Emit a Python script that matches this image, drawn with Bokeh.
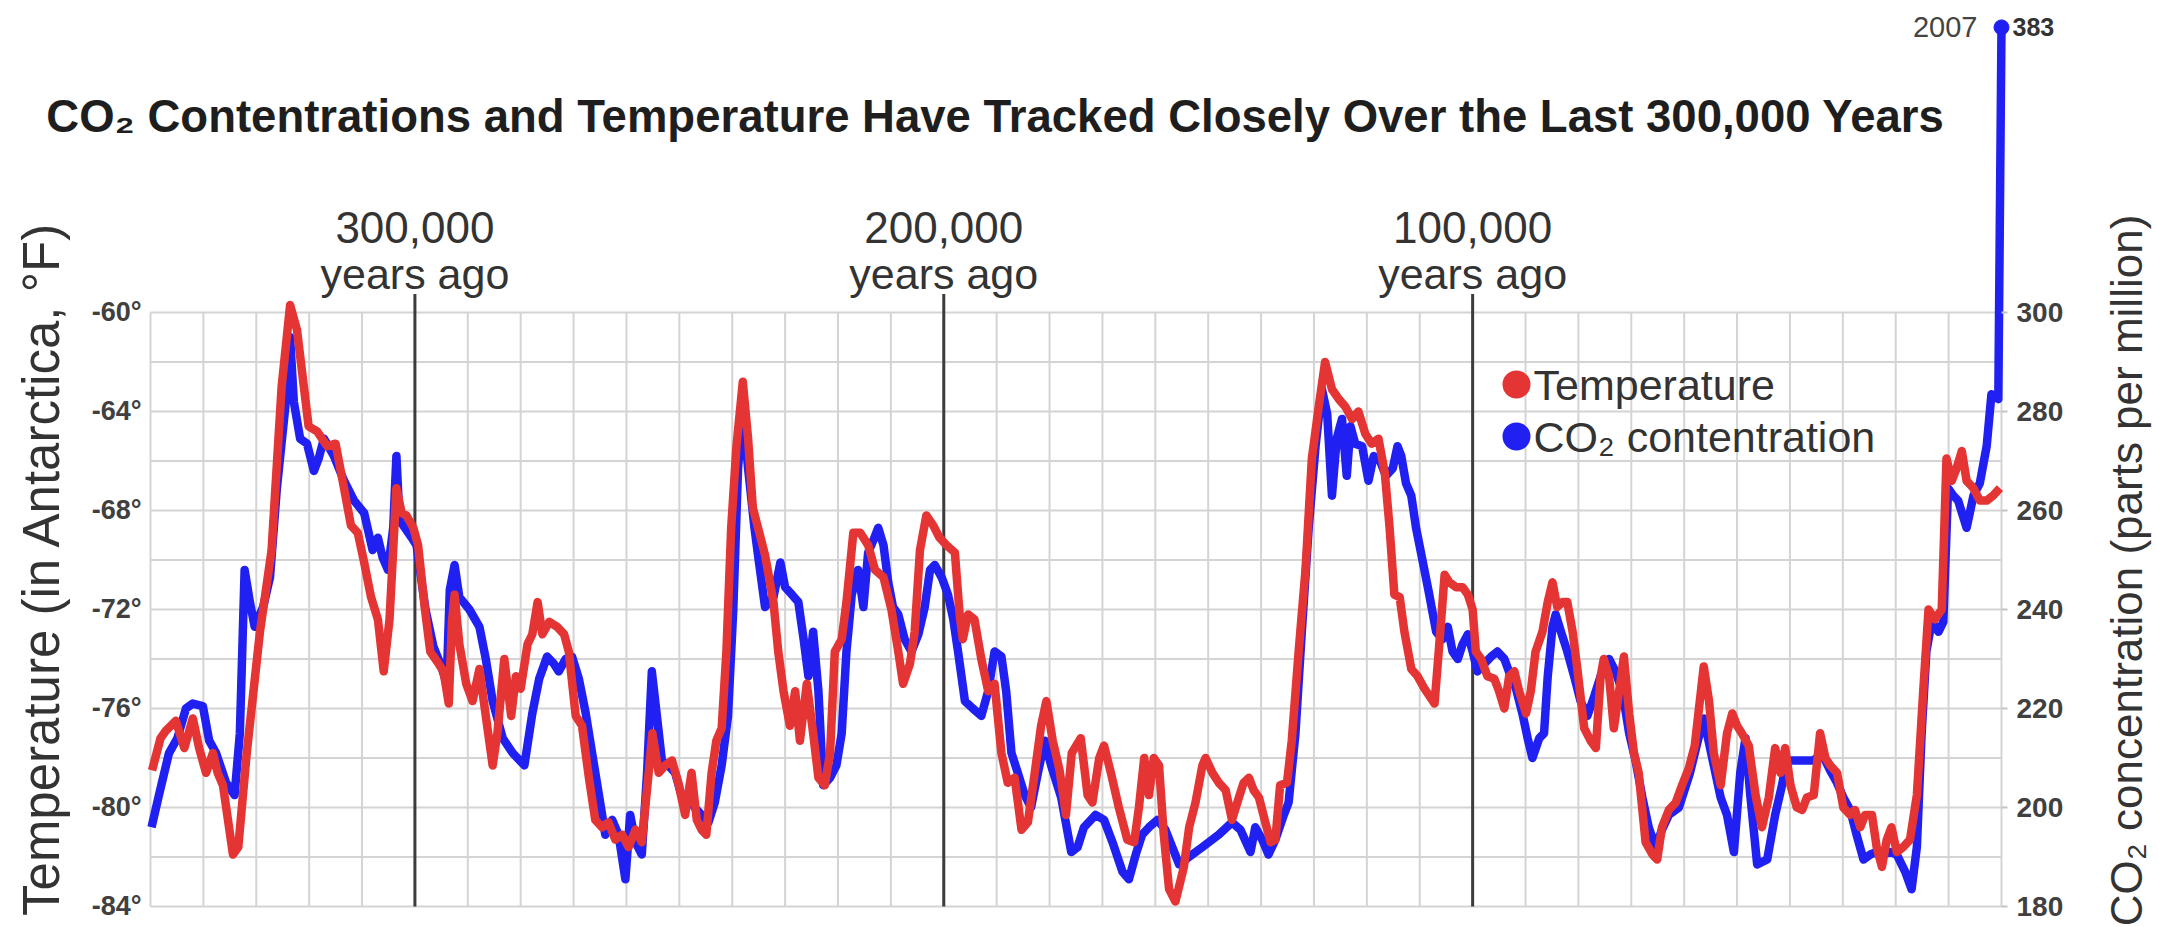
import math
from bokeh.plotting import figure
from bokeh.models import (Range1d, LinearAxis, FixedTicker, Label, LabelSet,
                          ColumnDataSource, BoxAnnotation)
from bokeh.embed import file_html
from bokeh.resources import INLINE
from bokeh.core.properties import value

# ---------------- data (thousands of years ago) ----------------
TEMP_KYR = [349.7, 348.1, 347.1, 345.2, 343.6, 342.0, 340.8, 339.5, 338.2, 337.3, 336.3, 334.4, 333.4,
            331.8, 329.3, 327.1, 325.2, 323.6, 322.3, 321.0, 320.1, 318.5, 316.6, 315.0, 313.4, 312.1,
            310.8, 309.6, 308.3, 307.0, 305.9, 304.8, 303.5, 302.5, 301.6, 300.3, 299.4, 298.1, 297.1,
            295.5, 294.6, 293.6, 293.0, 292.5, 291.6, 290.3, 289.1, 287.8, 286.6, 285.3, 284.4, 283.1,
            281.8, 280.9, 280.0, 278.7, 277.8, 276.8, 275.9, 274.6, 273.1, 271.8, 270.9, 269.6, 268.4,
            267.1, 265.9, 264.6, 263.4, 262.1, 260.8, 259.6, 258.3, 257.1, 255.8, 255.1, 253.9, 252.7,
            251.4, 250.2, 248.9, 247.7, 246.7, 245.8, 244.9, 243.9, 243.0, 242.0, 241.1, 240.2, 239.2,
            238.0, 237.0, 236.1, 235.0, 233.8, 232.2, 231.3, 230.3, 229.1, 228.1, 227.2, 225.9, 224.7,
            223.7, 222.5, 221.5, 220.6, 219.3, 218.4, 217.1, 215.8, 214.3, 213.0, 211.4, 209.9, 208.6,
            207.7, 206.4, 205.5, 204.5, 203.3, 202.0, 200.8, 199.5, 197.9, 197.0, 196.4, 195.4, 194.2,
            192.9, 191.6, 190.4, 189.1, 187.9, 186.6, 185.3, 184.1, 182.8, 181.6, 180.6, 179.4, 178.1,
            176.9, 175.8, 174.1, 172.8, 171.9, 170.6, 169.7, 168.4, 166.9, 165.3, 164.0, 163.1, 162.1,
            161.2, 160.3, 159.3, 158.4, 157.4, 156.2, 154.6, 153.6, 152.4, 151.1, 150.5, 149.2, 148.0,
            146.7, 145.5, 144.2, 143.3, 142.3, 141.4, 140.4, 139.2, 138.2, 137.3, 136.4, 135.1, 134.2,
            132.9, 131.6, 130.4, 129.1, 127.9, 126.6, 125.3, 124.1, 122.8, 121.6, 120.3, 119.1, 117.8,
            116.6, 115.7, 114.8, 113.8, 112.9, 111.6, 110.4, 109.1, 107.2, 106.3, 105.3, 104.4, 103.1,
            101.9, 100.9, 100.0, 99.4, 98.4, 97.2, 95.9, 95.0, 94.0, 93.1, 92.1, 91.2, 89.9, 89.0, 88.1,
            86.8, 85.8, 84.9, 84.0, 83.0, 82.1, 81.1, 80.2, 78.9, 77.7, 76.7, 75.8, 75.2, 74.2, 73.3,
            72.3, 71.4, 70.4, 69.5, 68.6, 67.3, 66.0, 65.1, 64.2, 62.9, 61.6, 60.4, 59.1, 58.0, 56.3,
            55.3, 54.4, 53.1, 51.9, 50.9, 50.0, 49.1, 47.8, 46.5, 45.3, 44.0, 42.8, 41.8, 40.9, 39.9,
            38.7, 37.7, 36.8, 35.5, 34.3, 33.3, 32.4, 31.1, 29.9, 28.6, 27.7, 26.7, 25.8, 24.5, 23.6,
            22.6, 21.7, 20.8, 19.8, 18.6, 17.3, 16.0, 14.8, 13.8, 12.6, 11.3, 10.4, 9.4, 8.5, 7.5, 6.6,
            5.3, 4.1, 2.8, 1.6, 0.3]
TEMP_F = [-78.5, -77.2, -76.9, -76.5, -77.6, -76.4, -77.6, -78.6, -77.8, -78.6, -79.1, -81.9, -81.6,
          -77.8, -72.9, -69.6, -63.0, -59.7, -60.7, -63.0, -64.6, -64.8, -65.4, -65.3, -67.1, -68.6,
          -68.9, -70.1, -71.5, -72.4, -74.5, -72.4, -67.1, -68.1, -68.2, -68.7, -69.4, -72.0, -73.7,
          -74.2, -74.5, -75.8, -72.5, -71.4, -73.4, -75.0, -75.7, -74.4, -76.3, -78.3, -77.0, -74.0,
          -76.3, -74.7, -75.2, -73.4, -73.0, -71.7, -73.0, -72.5, -72.7, -73.0, -73.7, -76.3, -76.7,
          -78.8, -80.5, -80.8, -80.6, -81.3, -81.1, -81.6, -80.9, -81.4, -78.6, -77.0, -78.6, -78.3,
          -78.1, -79.0, -80.3, -78.6, -80.5, -80.9, -81.1, -78.6, -77.3, -76.8, -73.7, -68.7, -65.4,
          -62.8, -65.1, -67.9, -68.8, -69.8, -71.7, -73.7, -75.3, -76.7, -75.3, -77.3, -75.0, -77.0,
          -78.8, -79.1, -77.8, -73.7, -73.2, -71.7, -68.9, -68.9, -69.4, -70.4, -70.7, -72.0, -73.7,
          -75.0, -74.2, -72.9, -69.6, -68.2, -68.6, -69.1, -69.4, -69.7, -72.2, -73.2, -72.2, -72.4,
          -74.0, -75.3, -75.0, -77.8, -79.0, -78.8, -80.9, -80.6, -78.6, -76.7, -75.7, -77.3, -78.5,
          -80.3, -77.8, -77.2, -79.5, -79.8, -78.0, -77.5, -78.6, -80.0, -81.3, -81.4, -80.0, -78.0,
          -79.5, -78.0, -78.3, -81.1, -83.3, -83.8, -82.4, -80.8, -79.8, -78.3, -78.0, -78.6, -79.0,
          -79.3, -80.5, -79.6, -79.0, -78.8, -79.3, -79.6, -80.6, -81.4, -81.3, -79.1, -79.0, -77.3,
          -73.7, -70.4, -65.9, -63.8, -62.0, -63.1, -63.5, -63.8, -64.3, -64.0, -64.9, -65.3, -65.1,
          -66.5, -68.7, -71.4, -71.5, -72.9, -74.4, -74.7, -75.2, -75.8, -73.4, -70.6, -70.9, -71.1,
          -71.1, -71.4, -72.0, -73.7, -74.0, -74.7, -74.8, -75.3, -76.0, -74.7, -74.5, -75.3, -76.2,
          -75.3, -73.7, -72.9, -71.7, -70.9, -71.9, -71.7, -71.7, -72.9, -74.4, -76.8, -77.3, -77.6,
          -74.7, -74.0, -74.7, -76.8, -75.3, -73.9, -76.2, -77.8, -78.6, -81.4, -81.9, -82.1, -80.8,
          -80.1, -79.8, -79.1, -78.4, -77.5, -74.3, -75.7, -77.8, -79.1, -77.0, -76.2, -76.7, -77.0,
          -77.5, -79.5, -80.8, -79.6, -77.6, -78.6, -77.6, -79.1, -80.0, -80.1, -79.6, -79.5, -77.0,
          -78.0, -78.3, -78.6, -80.0, -80.3, -80.1, -80.8, -80.3, -80.3, -81.6, -82.4, -81.3, -80.8,
          -81.8, -81.6, -81.3, -79.5, -75.3, -72.0, -72.4, -72.0, -65.9, -66.8, -66.3, -65.6, -66.8,
          -67.1, -67.6, -67.6, -67.4, -67.1]

CO2_KYR = [349.8, 348.4, 346.5, 344.9, 343.3, 342.0, 340.1, 338.9, 337.6, 335.7, 334.1, 333.1, 332.2,
           331.2, 330.3, 328.7, 327.4, 326.1, 324.5, 323.6, 322.9, 321.7, 320.4, 319.1, 318.2, 317.2,
           315.3, 313.4, 311.5, 309.6, 308.0, 307.0, 306.1, 305.1, 304.1, 303.5, 302.9, 301.9, 300.6,
           299.7, 298.0, 296.5, 295.0, 294.0, 293.4, 292.5, 291.6, 289.7, 287.8, 286.6, 285.3, 283.4,
           281.5, 279.3, 277.8, 276.5, 275.0, 273.7, 272.8, 271.5, 270.3, 269.0, 267.7, 266.5, 265.2,
           264.0, 262.7, 261.5, 260.2, 259.3, 258.3, 257.1, 256.1, 255.2, 254.3, 253.3, 252.1, 250.8,
           249.6, 248.3, 247.1, 245.8, 244.5, 243.3, 242.0, 240.8, 239.8, 238.9, 238.0, 237.0, 235.8,
           235.0, 233.8, 232.2, 230.9, 230.0, 228.7, 227.5, 226.5, 225.6, 224.7, 223.7, 222.8, 221.5,
           220.3, 219.3, 218.4, 217.4, 216.2, 215.2, 214.3, 213.3, 212.4, 211.4, 210.5, 209.6, 208.6,
           207.4, 206.1, 204.8, 203.6, 202.6, 201.7, 200.4, 199.2, 198.2, 197.3, 196.0, 194.5, 192.9,
           191.6, 190.4, 189.1, 188.2, 187.2, 186.0, 184.7, 183.5, 182.2, 180.9, 179.7, 177.8, 175.9,
           174.7, 173.5, 171.3, 169.7, 168.1, 166.2, 165.0, 163.7, 162.5, 161.2, 159.6, 158.1, 156.8,
           155.5, 154.3, 151.1, 148.0, 145.5, 143.9, 142.0, 141.1, 139.8, 138.6, 137.3, 135.7, 134.8,
           133.5, 132.3, 131.0, 129.7, 128.5, 127.5, 126.6, 125.7, 124.7, 123.8, 123.1, 122.2, 120.9,
           119.7, 118.7, 117.5, 116.4, 115.1, 114.2, 113.5, 112.6, 111.6, 110.7, 109.4, 108.2, 106.9,
           105.7, 104.7, 103.8, 102.8, 101.9, 100.9, 100.0, 99.1, 97.8, 96.5, 95.3, 94.0, 92.8, 91.8,
           90.6, 89.6, 88.7, 87.4, 86.5, 85.8, 84.9, 84.3, 83.3, 82.1, 80.8, 79.6, 78.3, 77.0, 75.8,
           74.2, 73.0, 71.7, 70.4, 69.2, 67.9, 66.7, 65.4, 64.2, 62.9, 61.0, 58.9, 57.3, 56.3, 54.4,
           53.1, 51.9, 50.6, 49.4, 48.4, 47.5, 46.2, 44.3, 42.8, 41.5, 40.6, 39.3, 37.4, 35.5, 34.0,
           32.4, 31.1, 29.9, 28.6, 27.4, 26.1, 24.8, 23.6, 22.3, 21.1, 19.8, 18.2, 17.0, 16.0, 15.1,
           14.2, 13.2, 11.9, 11.0, 10.1, 9.1, 8.2, 6.6, 5.3, 4.1, 2.8, 1.9, 0.6, 0.0]
CO2_PPM = [196, 202.5, 211, 214, 220, 221, 220.5, 213.5, 211, 205, 202.5, 215, 248,
           241.5, 236.5, 240.5, 246.5, 264.5, 281, 295, 282, 274.5, 273.5, 268, 270.5, 274.5,
           271, 266, 262, 259.5, 252, 254.5, 250.5, 248, 256.5, 271, 258, 256.5, 254.5,
           253, 240, 232.5, 228.5, 225, 244, 249, 242.5, 240, 236.5, 230, 221.5, 214,
           211, 208.5, 219, 226, 230.5, 229, 227.5, 230, 230.5, 226, 219, 211, 202.5,
           194.5, 197.5, 194.5, 185.5, 198.5, 193, 190.5, 207, 227.5, 219, 209.5, 208.5, 207,
           202.5, 202, 200, 198.5, 197, 201, 208.5, 218.5, 240, 268.5, 281, 268.5, 256.5,
           250, 240.5, 242.5, 249.5, 244.5, 243, 241.5, 234, 226.5, 235.5, 223.5, 204.5, 206,
           208.5, 215, 231.5, 243, 248, 240.5, 251.5, 254, 256.5, 253, 245.5, 240.5, 239,
           234, 231.5, 235, 240.5, 248, 249, 246.5, 243, 238, 231.5, 221.5, 220, 218.5,
           223.5, 231.5, 230.5, 223.5, 211, 207, 202.5, 200, 207, 213.5, 208.5, 202, 191,
           192, 196, 198.5, 197.5, 193, 187, 185.5, 190.5, 194.5, 196, 197.5, 195.5, 192,
           188.5, 189.5, 192, 194.5, 197, 195.5, 191, 196, 193.5, 190.5, 193.5, 198.5, 201,
           215, 235.5, 256.5, 273, 284.5, 279.5, 263, 274.5, 278.5, 267, 277, 273.5, 273,
           266, 271, 270, 267, 268.5, 273, 271, 265.5, 263, 256.5, 249.5, 243, 235.5,
           234, 236.5, 231.5, 230, 233, 235, 231.5, 227.5, 229, 230.5, 231.5, 230, 226.5, 224,
           219, 214, 210, 214, 215, 226.5, 236.5, 239, 235.5, 231.5, 226.5, 221.5, 218.5, 222.5, 226.5,
           230, 227.5, 223.5, 215, 209.5, 202, 196, 192, 195.5, 198.5, 200, 207, 214, 218, 208.5,
           202, 198.5, 191, 207, 214, 202.5, 188.5, 189.5, 198.5, 204.5, 209.5, 209.5, 209.5, 209.5, 211,
           207.5, 205, 202, 199.5, 194.5, 189.5, 190.5, 191, 190.5, 191, 190.5, 187, 183.5, 192, 215,
           231.5, 237.5, 235.5, 237.5, 264.5, 263, 262, 256.5, 263, 265.5, 273, 283.5, 282.5, 383]

PRESENT_YEAR = "2007"
TEMP_TICKS = [-84, -80, -76, -72, -68, -64, -60]
TEMP_TICK_LABELS = {t: f"{t}\u00b0" for t in TEMP_TICKS}
CO2_TICKS = [180, 200, 220, 240, 260, 280, 300]
ERA_KYR = [300, 200, 100]
ERA_NUM = ["300,000", "200,000", "100,000"]
ERA_SUB = ["years ago", "years ago", "years ago"]
GRID_KYR = list(range(0, 351, 10))
GRID_TEMP = list(range(-84, -59, 2))

TITLE = "CO\u2082 Contentrations and Temperature Have Tracked Closely Over the Last 300,000 Years"
LEFT_TITLE = "Temperature (in Antarctica, \u00b0F)"
RIGHT_TITLE = "CO\u2082 concentration (parts per million)"
SERIES_NAMES = ["Temperature", "CO\u2082 contentration"]

# ---------------- styling / scales ----------------
RED = "#e43434"
BLUE = "#2020f2"
GRID_COLOR = "#d4d4d4"
DARK = "#3c3c3c"
TEXT = "#333333"
FONT = "Liberation Sans"

W, H = 2156, 925
TEMP_AXIS = (-84, -60)      # left axis span of the grid
CO2_AXIS = (180, 300)       # right axis span, aligned with it
X_RANGE = (378.36, -29.31)  # frame covers the whole canvas; data span 350..0
Y_RANGE = (-84.768, -47.394)
SPIKE_CAP_PPM = 357.6       # broken-axis position where the modern value is drawn


def t2c(t):
    return CO2_AXIS[0] + (t - TEMP_AXIS[0]) * (CO2_AXIS[1] - CO2_AXIS[0]) / (TEMP_AXIS[1] - TEMP_AXIS[0])


co2_drawn = [min(v, SPIKE_CAP_PPM) for v in CO2_PPM]

p = figure(width=W, height=H, output_backend="svg", toolbar_location=None,
           x_range=Range1d(*X_RANGE), y_range=Range1d(*Y_RANGE),
           x_axis_location=None, y_axis_location=None,
           min_border_left=0, min_border_right=0, min_border_top=0, min_border_bottom=0,
           outline_line_color=None, background_fill_color="white", border_fill_color="white")
p.grid.visible = False
p.extra_y_ranges = {"co2": Range1d(t2c(Y_RANGE[0]), t2c(Y_RANGE[1]))}

# grid
n = len(GRID_KYR)
p.segment(x0=GRID_KYR, y0=[TEMP_AXIS[0]] * n, x1=GRID_KYR, y1=[TEMP_AXIS[1]] * n,
          line_color=GRID_COLOR, line_width=2, level="underlay")
m = len(GRID_TEMP)
p.segment(x0=[GRID_KYR[-1]] * m, y0=GRID_TEMP, x1=[GRID_KYR[0]] * m, y1=GRID_TEMP,
          line_color=GRID_COLOR, line_width=2, level="underlay")
# era dividers
k = len(ERA_KYR)
p.segment(x0=ERA_KYR, y0=[TEMP_AXIS[0]] * k, x1=ERA_KYR, y1=[TEMP_AXIS[1] + 0.75] * k,
          line_color=DARK, line_width=3)

# series
p.line(CO2_KYR, co2_drawn, y_range_name="co2", line_color=BLUE, line_width=8.5, line_join="round")
p.line(TEMP_KYR, TEMP_F, line_color=RED, line_width=8.5, line_join="round")
p.scatter([CO2_KYR[-1]], [co2_drawn[-1]], y_range_name="co2", size=15, color=BLUE)

p.add_layout(Label(x=CO2_KYR[-1], y=co2_drawn[-1], y_range_name="co2", text=PRESENT_YEAR,
                   text_align="right", text_baseline="middle", x_offset=-24,
                   text_font=FONT, text_font_size="29px", text_color="#444444"))
p.add_layout(Label(x=CO2_KYR[-1], y=co2_drawn[-1], y_range_name="co2", text=f"{CO2_PPM[-1]:.0f}",
                   text_align="left", text_baseline="middle", x_offset=11,
                   text_font=FONT, text_font_style="bold",
                   text_font_size="25px", text_color="#333333"))

# axes (drawn at the data edges of the grid)
la = LinearAxis(fixed_location=GRID_KYR[-1], ticker=FixedTicker(ticks=TEMP_TICKS))
la.major_label_overrides = TEMP_TICK_LABELS
la.major_label_text_font = FONT
la.major_label_text_font_style = "bold"
la.major_label_text_font_size = "27px"
la.major_label_text_color = "#404040"
la.major_label_standoff = 3
la.axis_line_color = None
la.major_tick_line_color = None
la.minor_tick_line_color = None
p.add_layout(la, "left")

ra = LinearAxis(y_range_name="co2", fixed_location=GRID_KYR[0], ticker=FixedTicker(ticks=CO2_TICKS))
ra.major_label_text_font = FONT
ra.major_label_text_font_style = "bold"
ra.major_label_text_font_size = "28px"
ra.major_label_text_color = "#404040"
ra.major_label_standoff = 9
ra.axis_line_color = None
ra.major_tick_in = 0
ra.major_tick_out = 6
ra.major_tick_line_color = "#c4c4c4"
ra.major_tick_line_width = 2
ra.minor_tick_line_color = None
p.add_layout(ra, "right")

# axis titles (both read bottom-to-top)
p.add_layout(Label(x=41, y=357, x_units="screen", y_units="screen", text=LEFT_TITLE,
                   angle=math.pi / 2, text_align="center", text_baseline="middle",
                   text_font=FONT, text_font_size="51px", text_color=TEXT))
p.add_layout(Label(x=2126, y=355, x_units="screen", y_units="screen", text=RIGHT_TITLE,
                   angle=math.pi / 2, text_align="center", text_baseline="middle",
                   text_font=FONT, text_font_size="44px", text_color=TEXT))

# era labels
era_src = ColumnDataSource(dict(x=ERA_KYR, num=ERA_NUM, sub=ERA_SUB))
p.add_layout(LabelSet(x="x", y=683, y_units="screen", text="num", source=era_src,
                      text_align="center", text_baseline="alphabetic",
                      text_font=value(FONT), text_font_size="44px", text_color=TEXT))
p.add_layout(LabelSet(x="x", y=637, y_units="screen", text="sub", source=era_src,
                      text_align="center", text_baseline="alphabetic",
                      text_font=value(FONT), text_font_size="43px", text_color=TEXT))

# title
p.add_layout(Label(x=995, y=809, x_units="screen", y_units="screen", text=TITLE,
                   text_align="center", text_baseline="alphabetic",
                   text_font=FONT, text_font_style="bold",
                   text_font_size="45.5px", text_color="#1e1e1e"))

# legend: dot markers + labels
LEG_X, LEG_Y, LEG_STEP, DOT = 1516, 541, 52, 28
for i, (name, col) in enumerate(zip(SERIES_NAMES, [RED, BLUE])):
    cy = LEG_Y - i * LEG_STEP
    p.add_layout(BoxAnnotation(left=LEG_X - DOT // 2, right=LEG_X + DOT // 2,
                               bottom=cy - DOT // 2, top=cy + DOT // 2,
                               left_units="screen", right_units="screen",
                               top_units="screen", bottom_units="screen",
                               border_radius=DOT // 2, fill_color=col, fill_alpha=1.0,
                               line_color=None))
    p.add_layout(Label(x=LEG_X + 17, y=cy, x_units="screen", y_units="screen", text=name,
                       text_align="left", text_baseline="middle",
                       text_font=FONT, text_font_size="43px", text_color=TEXT))

open("out.html", "w").write(file_html(p, INLINE))
